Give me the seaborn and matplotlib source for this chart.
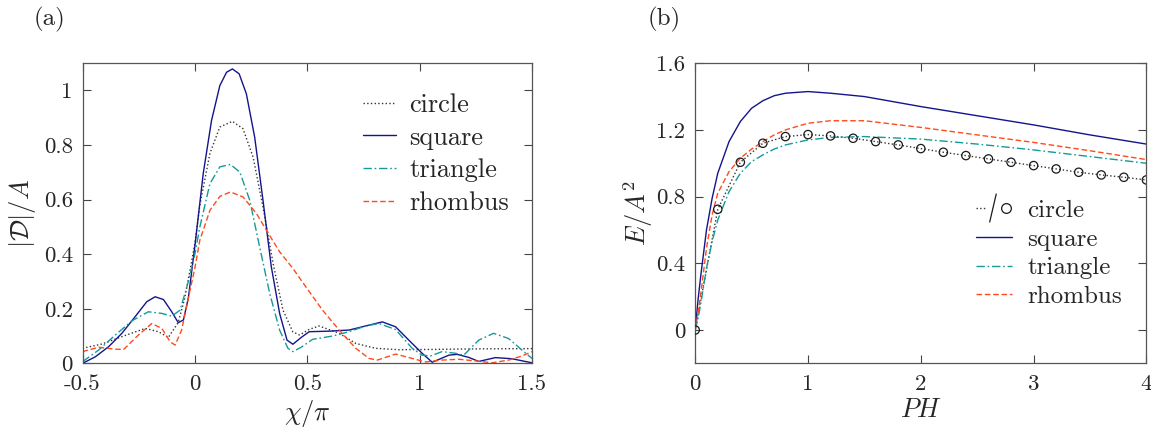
import seaborn as sns
import matplotlib.pyplot as plt
from matplotlib.lines import Line2D
from matplotlib.legend_handler import HandlerBase

# ---- panel (a): |D|/A vs chi/pi ----
sq_a_x = [-0.5, -0.443, -0.384, -0.325, -0.266, -0.214, -0.177, -0.14, -0.103, -0.074, -0.051, -0.029, 0.0,
          0.037, 0.074, 0.111, 0.141, 0.167, 0.197, 0.229, 0.266, 0.303, 0.34, 0.377, 0.41, 0.436, 0.473,
          0.509, 0.598, 0.686, 0.76, 0.834, 0.893, 0.952, 1.011, 1.056, 1.13, 1.167, 1.218, 1.263, 1.337,
          1.41, 1.5]
sq_a_y = [0.0, 0.024, 0.061, 0.11, 0.171, 0.226, 0.244, 0.234, 0.189, 0.149, 0.159, 0.24, 0.43,
          0.695, 0.89, 1.018, 1.067, 1.079, 1.061, 0.988, 0.829, 0.598, 0.354, 0.183, 0.085, 0.07, 0.095,
          0.116, 0.118, 0.122, 0.137, 0.152, 0.134, 0.085, 0.037, 0.004, 0.03, 0.033, 0.022, 0.007, 0.021,
          0.017, 0.002]

ci_a_x = [-0.5, -0.413, -0.325, -0.221, -0.162, -0.118, -0.074, -0.045, -0.022, 0.0, 0.022, 0.067, 0.111,
          0.167, 0.214, 0.259, 0.303, 0.348, 0.392, 0.436, 0.466, 0.51, 0.553, 0.642, 0.716, 0.805, 0.908,
          1.05, 1.25, 1.5]
ci_a_y = [0.055, 0.071, 0.098, 0.128, 0.116, 0.095, 0.15, 0.24, 0.34, 0.44, 0.58, 0.77, 0.866,
          0.887, 0.86, 0.756, 0.573, 0.366, 0.195, 0.115, 0.104, 0.125, 0.137, 0.11, 0.073, 0.055, 0.05,
          0.051, 0.053, 0.054]

tr_a_x = [-0.5, -0.428, -0.354, -0.28, -0.207, -0.147, -0.103, -0.066, -0.029, 0.0, 0.022, 0.067, 0.111,
          0.158, 0.2, 0.244, 0.288, 0.333, 0.377, 0.414, 0.436, 0.473, 0.524, 0.612, 0.686, 0.76, 0.819,
          0.893, 0.967, 1.011, 1.048, 1.1, 1.159, 1.196, 1.263, 1.329, 1.396, 1.455, 1.5]
tr_a_y = [0.006, 0.049, 0.104, 0.156, 0.189, 0.183, 0.173, 0.195, 0.30, 0.40, 0.50, 0.659, 0.72,
          0.729, 0.701, 0.598, 0.427, 0.256, 0.122, 0.055, 0.043, 0.059, 0.088, 0.1, 0.116, 0.137, 0.146,
          0.124, 0.055, 0.03, 0.027, 0.043, 0.037, 0.03, 0.085, 0.11, 0.091, 0.049, 0.018]

rh_a_x = [-0.5, -0.428, -0.354, -0.317, -0.251, -0.192, -0.147, -0.11, -0.088, -0.059, -0.029, 0.0, 0.022,
          0.067, 0.111, 0.158, 0.214, 0.274, 0.318, 0.377, 0.436, 0.494, 0.568, 0.642, 0.716, 0.775, 0.812,
          0.893, 0.967, 1.026, 1.1, 1.174, 1.248, 1.322, 1.396, 1.455, 1.5]
rh_a_y = [0.043, 0.059, 0.052, 0.051, 0.104, 0.146, 0.128, 0.079, 0.067, 0.122, 0.24, 0.35, 0.451,
          0.561, 0.612, 0.628, 0.61, 0.549, 0.488, 0.409, 0.348, 0.28, 0.195, 0.122, 0.055, 0.018, 0.012,
          0.034, 0.018, 0.005, 0.012, 0.015, 0.009, 0.002, 0.012, 0.027, 0.043]

# ---- panel (b): E/A^2 vs PH ----
ph_circle = [0.0, 0.2, 0.4, 0.6, 0.8, 1.0, 1.2, 1.4, 1.6, 1.8, 2.0, 2.2, 2.4, 2.6, 2.8, 3.0, 3.2, 3.4, 3.6, 3.8, 4.0]
e_circle = [0.0, 0.724, 1.006, 1.12, 1.16, 1.172, 1.164, 1.15, 1.13, 1.11, 1.088, 1.066, 1.046, 1.026,
            1.006, 0.986, 0.966, 0.946, 0.93, 0.916, 0.9]

ph_grid = [0.0, 0.025, 0.05, 0.1, 0.15, 0.2, 0.3, 0.4, 0.5, 0.6, 0.7, 0.8, 1.0, 1.2, 1.5, 2.0, 2.5, 3.0, 3.5, 4.0]
e_square = [0.0, 0.18, 0.33, 0.60, 0.79, 0.94, 1.13, 1.25, 1.33, 1.375, 1.405, 1.42, 1.43, 1.42, 1.40,
            1.34, 1.285, 1.23, 1.17, 1.115]
e_triangle = [0.0, 0.07, 0.16, 0.37, 0.53, 0.66, 0.83, 0.94, 1.01, 1.05, 1.085, 1.11, 1.14, 1.155, 1.16,
              1.145, 1.115, 1.08, 1.04, 1.0]
e_rhombus = [0.0, 0.10, 0.22, 0.49, 0.69, 0.82, 0.95, 1.03, 1.085, 1.13, 1.17, 1.20, 1.24, 1.255, 1.255,
             1.215, 1.17, 1.125, 1.075, 1.022]

xticks_a = [-0.5, 0, 0.5, 1, 1.5]
xticklabels_a = ['-0.5', '0', '0.5', '1', '1.5']
yticks_a = [0, 0.2, 0.4, 0.6, 0.8, 1]
yticklabels_a = ['0', '0.2', '0.4', '0.6', '0.8', '1']
xticks_b = [0, 1, 2, 3, 4]
xticklabels_b = ['0', '1', '2', '3', '4']
yticks_b = [0, 0.4, 0.8, 1.2, 1.6]
yticklabels_b = ['0', '0.4', '0.8', '1.2', '1.6']
labels = ['circle', 'square', 'triangle', 'rhombus']

C_CIRCLE = '#333333'
C_SQUARE = '#14148c'
C_TRI = '#149a9a'
C_RHOMB = '#ff4b1c'
DASHDOT = (0, (6, 2, 1.2, 2))
DASHED = (0, (4, 2))

sns.set_theme(style='ticks')
plt.rcParams['font.family'] = ['cmr10', 'DejaVu Serif']
plt.rcParams['mathtext.fontset'] = 'cm'
plt.rcParams['axes.formatter.use_mathtext'] = True
plt.rcParams['axes.unicode_minus'] = False


class CircleSlashHandler(HandlerBase):
    # dotted line, a slash and an open circle, as in "..../o circle"
    def create_artists(self, legend, orig, xd, yd, w, h, fontsize, trans):
        y0 = h / 2 - yd
        x0 = -xd
        dots = Line2D([x0, x0 + 0.3 * w], [y0, y0], color=C_CIRCLE, ls=':', lw=1.0)
        slash = Line2D([x0 + 0.38 * w, x0 + 0.56 * w], [y0 - 0.8 * h, y0 + 0.8 * h], color='k', lw=0.9)
        ring = Line2D([x0 + 0.82 * w], [y0], marker='o', ms=7, mfc='none', mec='k', mew=0.9, ls='none')
        for a in (dots, slash, ring):
            a.set_transform(trans)
        return [dots, slash, ring]


fig = plt.figure(figsize=(11.51, 4.30), dpi=100)
ax1 = fig.add_axes([0.0717, 0.155, 0.3905, 0.698])
ax2 = fig.add_axes([0.6040, 0.155, 0.3920, 0.698])

lw = 1.0
sns.lineplot(x=ci_a_x, y=ci_a_y, ax=ax1, color=C_CIRCLE, linestyle=':', lw=lw)
sns.lineplot(x=sq_a_x, y=sq_a_y, ax=ax1, color=C_SQUARE, linestyle='-', lw=lw)
sns.lineplot(x=tr_a_x, y=tr_a_y, ax=ax1, color=C_TRI, linestyle=DASHDOT, lw=lw)
sns.lineplot(x=rh_a_x, y=rh_a_y, ax=ax1, color=C_RHOMB, linestyle=DASHED, lw=lw)

sns.lineplot(x=ph_circle, y=e_circle, ax=ax2, color=C_CIRCLE, linestyle=':', lw=lw)
sns.scatterplot(x=ph_circle, y=e_circle, ax=ax2, marker='o', s=36, facecolor='none',
                edgecolor='k', linewidth=0.9, zorder=5)
sns.lineplot(x=ph_grid, y=e_square, ax=ax2, color=C_SQUARE, linestyle='-', lw=lw)
sns.lineplot(x=ph_grid, y=e_triangle, ax=ax2, color=C_TRI, linestyle=DASHDOT, lw=lw)
sns.lineplot(x=ph_grid, y=e_rhombus, ax=ax2, color=C_RHOMB, linestyle=DASHED, lw=lw)

ax1.set_xlim(-0.5, 1.5)
ax1.set_ylim(0, 1.1)
ax1.set_xticks(xticks_a, xticklabels_a)
ax1.set_yticks(yticks_a, yticklabels_a)
ax1.set_xlabel(r'$\chi/\pi$', fontsize=19)
ax1.set_ylabel(r'$|\mathcal{D}|/A$', fontsize=19)
ax1.xaxis.set_label_coords(0.5, -0.115)
ax1.yaxis.set_label_coords(-0.098, 0.5)

ax2.set_xlim(0, 4)
ax2.set_ylim(-0.2, 1.6)
ax2.set_xticks(xticks_b, xticklabels_b)
ax2.set_yticks(yticks_b, yticklabels_b)
ax2.set_xlabel(r'$PH$', fontsize=19)
ax2.set_ylabel(r'$E/A^2$', fontsize=19)
ax2.xaxis.set_label_coords(0.5, -0.115)
ax2.yaxis.set_label_coords(-0.088, 0.5)

for ax in (ax1, ax2):
    ax.tick_params(direction='in', top=True, right=True, length=6, width=0.8,
                   color='#444444', labelsize=16.5)
    ax.tick_params(axis='x', pad=8)
    ax.tick_params(axis='y', pad=7)
    for sp in ax.spines.values():
        sp.set_color('#555555')
        sp.set_linewidth(0.9)

leg_a_handles = [
    Line2D([], [], color=C_CIRCLE, ls=':', lw=lw),
    Line2D([], [], color=C_SQUARE, ls='-', lw=lw),
    Line2D([], [], color=C_TRI, ls=DASHDOT, lw=lw),
    Line2D([], [], color=C_RHOMB, ls=DASHED, lw=lw),
]
ax1.legend(leg_a_handles, labels, loc='upper left', bbox_to_anchor=(0.60, 0.935), frameon=False,
           fontsize=19, handlelength=1.25, handletextpad=0.5, labelspacing=0.34, borderaxespad=0)

circ_proxy = Line2D([], [], color=C_CIRCLE, ls=':')
leg_b_handles = [circ_proxy] + leg_a_handles[1:]
ax2.legend(leg_b_handles, labels, loc='upper left', bbox_to_anchor=(0.60, 0.58), frameon=False,
           fontsize=18, handlelength=1.45, handletextpad=0.6, labelspacing=0.25, borderaxespad=0,
           handler_map={circ_proxy: CircleSlashHandler()})

fig.text(0.029, 0.955, '(a)', fontsize=18, va='center')
fig.text(0.563, 0.955, '(b)', fontsize=18, va='center')

fig.savefig('out.png', dpi=100)
